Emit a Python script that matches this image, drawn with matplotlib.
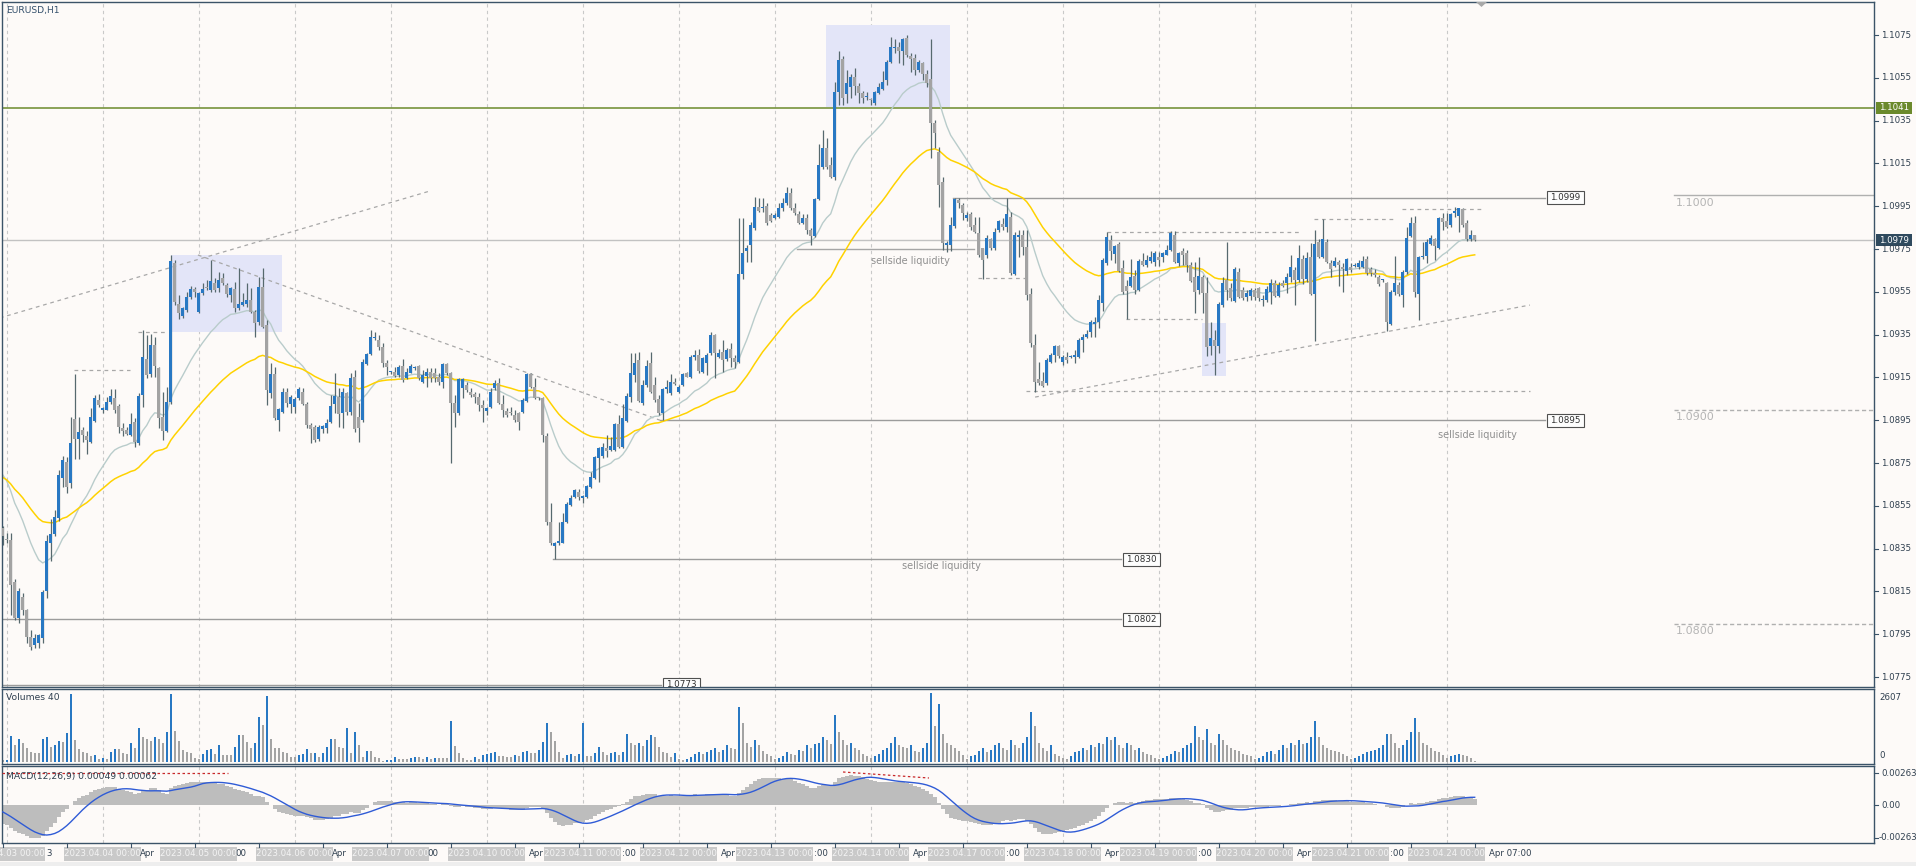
import matplotlib
matplotlib.use("Agg")
import matplotlib.pyplot as plt
from matplotlib.patches import Rectangle, Polygon
from matplotlib.textpath import TextToPath
from matplotlib.font_manager import FontProperties
import numpy as np

plt.rcParams['font.family'] = ['DejaVu Sans']

# ---------------- data ----------------
SYMBOL = "EURUSD,H1"
FIRST_BAR = -1                      # bar index of 2023.04.02 23:00 (index 0 = 2023.04.03 00:00)
TRADING_DAYS = ["2023.04.03", "2023.04.04", "2023.04.05", "2023.04.06", "2023.04.07",
                "2023.04.10", "2023.04.11", "2023.04.12", "2023.04.13", "2023.04.14",
                "2023.04.17", "2023.04.18", "2023.04.19", "2023.04.20", "2023.04.21",
                "2023.04.24"]
DAY_NUM = [3, 4, 5, 6, 7, 10, 11, 12, 13, 14, 17, 18, 19, 20, 21, 24]

# prices in pips above 1.0000 (e.g. 979.0 -> 1.09790)
open_pips = [
    844.4, 839.3, 839.0, 819.5, 802.4, 812.5, 806.3, 793.5, 789.9, 790.7, 793.4,
    815.3, 837.4, 841.8, 849.1, 868.1, 875.3, 865.5, 895.5, 886.0, 890.4,
    887.6, 885.0, 894.7, 904.4, 900.0, 900.0, 903.3, 905.2, 901.6, 891.5,
    890.4, 888.0, 894.3, 884.2, 906.7, 923.6, 916.6, 930.1, 919.2, 896.6,
    890.1, 903.6, 968.6, 949.3, 943.7, 946.5, 952.4, 956.1, 945.7, 954.3,
    957.4, 955.8, 958.9, 957.0, 961.3, 958.1, 953.5, 956.1, 947.2, 949.0,
    949.3, 951.2, 945.7, 941.0, 957.1, 939.5, 907.9, 916.6, 895.1, 899.0,
    908.3, 902.6, 901.0, 905.2, 908.3, 902.6, 892.8, 892.0, 886.1, 890.7,
    891.2, 894.3, 902.6, 905.7, 898.2, 907.6, 899.0, 915.3, 896.3, 895.1,
    921.3, 925.9, 933.2, 932.5, 929.4, 921.6, 917.4, 917.7, 916.1, 920.3,
    914.6, 917.2, 919.3, 920.3, 913.0, 915.7, 917.7, 916.9, 915.3, 913.0,
    921.3, 916.9, 903.2, 898.2, 909.9, 911.4, 908.3, 907.3, 905.7, 902.1,
    899.5, 901.3, 909.9, 912.2, 902.6, 899.5, 898.5, 897.4, 898.2, 899.0,
    904.1, 916.6, 910.7, 905.5, 905.2, 887.6, 847.6, 836.2, 837.5, 837.8,
    847.6, 855.4, 859.0, 861.6, 858.8, 859.3, 863.9, 867.8, 877.2, 878.3,
    881.8, 881.1, 881.1, 893.2, 882.3, 894.8, 906.0, 916.1, 923.1, 903.2,
    911.4, 921.6, 911.4, 904.7, 898.2, 909.4, 907.6, 913.0, 908.3, 911.4,
    916.9, 915.3, 924.7, 925.5, 917.3, 921.5, 926.2, 934.8, 924.6, 927.0,
    923.5, 928.5, 924.2, 922.3, 963.1, 974.0, 977.1, 984.6, 994.7, 994.0,
    995.2, 990.8, 989.6, 990.0, 994.0, 996.3, 1001.0, 994.3, 991.2, 987.0,
    989.3, 983.8, 981.2, 998.3, 1013.4, 1022.0, 1014.2, 1008.8, 1048.5, 1064.0,
    1047.2, 1050.8, 1055.5, 1051.3, 1047.7, 1046.0, 1045.1, 1043.0, 1047.7, 1049.7,
    1053.9, 1062.5, 1069.0, 1069.5, 1067.5, 1073.7, 1065.3, 1064.4, 1058.6, 1061.7,
    1057.0, 1054.4, 1033.7, 1020.4, 1006.4, 977.1, 976.8, 985.9, 997.9, 995.5,
    989.6, 991.2, 986.2, 982.3, 975.3, 972.2, 979.6, 975.3, 983.8, 986.9,
    985.4, 990.0, 963.1, 980.7, 981.5, 976.1, 954.2, 930.1, 914.2, 913.3,
    912.2, 922.3, 925.4, 929.8, 922.3, 924.6, 924.4, 924.6, 924.6, 932.4,
    934.0, 936.3, 939.9, 941.0, 950.0, 968.3, 979.2, 972.6, 977.3, 965.9,
    957.7, 957.7, 962.3, 955.8, 969.5, 967.5, 969.5, 969.0, 971.4, 971.1,
    972.2, 974.5, 981.5, 968.6, 974.2, 972.9, 967.5, 961.7, 955.8, 961.7,
    954.6, 929.6, 932.4, 929.6, 948.8, 960.5, 957.0, 950.8, 964.4, 955.8,
    952.4, 953.0, 955.8, 956.6, 951.0, 951.1, 955.0, 959.2, 953.0, 958.9,
    958.9, 961.7, 965.1, 960.5, 970.1, 960.8, 971.4, 953.9, 978.4, 971.1,
    978.4, 968.6, 967.0, 969.0, 966.4, 964.8, 966.4, 967.0, 966.4, 966.4,
    970.1, 965.5, 963.9, 962.0, 960.3, 958.9, 939.9, 955.0, 958.1, 953.5,
    964.4, 981.0, 987.0, 953.9, 971.1, 971.7, 977.3, 979.5, 975.3, 989.3,
    988.2, 986.2, 991.6, 990.4, 993.5, 987.3, 979.5, 981.5]
high_pips = [
    845.5, 842.1, 842.1, 821.0, 816.7, 814.1, 807.0, 797.0, 795.3, 795.3, 815.5,
    841.3, 848.6, 853.0, 871.7, 878.4, 878.0, 896.6, 916.4, 896.6, 892.0,
    890.0, 900.5, 906.7, 907.2, 901.3, 906.0, 909.4, 909.4, 902.8, 893.5,
    892.0, 898.2, 895.8, 907.5, 937.1, 934.8, 935.2, 933.7, 919.8, 908.3,
    910.6, 972.2, 969.8, 953.5, 948.0, 955.0, 957.7, 957.4, 955.0, 958.9,
    960.5, 969.8, 961.3, 964.4, 963.6, 958.9, 957.4, 959.7, 966.0, 954.3,
    959.0, 956.6, 946.5, 962.1, 966.0, 941.8, 921.6, 920.0, 900.5, 909.9,
    909.9, 906.8, 906.0, 910.4, 909.9, 903.7, 893.5, 892.8, 892.8, 892.8,
    895.4, 906.8, 916.9, 909.9, 909.9, 908.3, 916.9, 918.5, 902.9, 923.4,
    926.5, 937.2, 936.4, 934.8, 930.9, 923.1, 918.1, 920.0, 920.8, 923.4,
    919.2, 921.3, 920.3, 920.8, 918.5, 919.2, 919.2, 919.2, 916.9, 921.5,
    921.6, 917.7, 906.8, 914.6, 914.6, 913.0, 909.9, 908.3, 907.6, 904.4,
    901.0, 909.9, 913.8, 914.6, 906.8, 900.5, 901.3, 899.8, 899.0, 905.2,
    916.9, 916.9, 914.6, 906.0, 906.0, 888.9, 856.2, 838.2, 847.6, 851.5,
    856.9, 860.0, 862.7, 862.7, 860.0, 864.7, 870.9, 878.3, 882.6, 884.2,
    888.1, 887.3, 893.9, 897.4, 902.6, 907.6, 926.6, 926.3, 927.0, 913.8,
    923.1, 927.0, 915.3, 906.8, 909.9, 913.8, 916.6, 914.6, 911.4, 917.2,
    917.7, 925.5, 927.8, 928.1, 924.6, 926.2, 936.3, 935.5, 928.5, 932.4,
    928.8, 930.9, 925.4, 989.6, 989.6, 976.8, 987.7, 999.4, 998.9, 998.6,
    996.3, 991.6, 991.6, 996.3, 998.9, 1004.1, 1003.3, 996.3, 992.7, 991.2,
    991.2, 984.6, 998.9, 1023.9, 1030.6, 1026.7, 1018.1, 1053.1, 1067.5, 1065.3,
    1058.6, 1056.6, 1059.4, 1052.4, 1048.8, 1048.2, 1045.7, 1048.8, 1052.4, 1058.1,
    1063.3, 1074.2, 1073.1, 1071.8, 1073.7, 1075.0, 1066.4, 1065.9, 1063.3, 1062.5,
    1058.6, 1073.1, 1035.2, 1022.8, 1008.8, 978.7, 990.0, 998.9, 998.9, 996.3,
    992.4, 992.4, 990.0, 990.0, 975.6, 981.5, 980.3, 984.6, 988.5, 989.3,
    998.9, 992.4, 983.1, 983.8, 983.8, 983.8, 956.6, 935.5, 922.3, 917.6,
    923.9, 926.2, 930.1, 930.1, 925.4, 927.0, 925.4, 927.8, 933.2, 935.5,
    937.1, 941.8, 943.3, 953.5, 970.6, 983.1, 981.5, 976.8, 978.4, 969.8,
    960.5, 970.1, 965.1, 970.1, 973.2, 972.2, 974.2, 974.2, 973.7, 973.7,
    976.8, 983.5, 983.5, 973.7, 975.3, 974.5, 969.0, 969.0, 971.4, 962.8,
    962.0, 941.0, 937.1, 950.3, 962.0, 978.4, 958.9, 966.4, 965.9, 957.4,
    955.8, 956.6, 956.6, 957.4, 953.5, 957.7, 961.2, 960.5, 959.7, 960.5,
    963.6, 972.2, 966.4, 976.8, 972.2, 973.7, 977.6, 984.1, 979.9, 988.8,
    979.9, 969.8, 971.4, 969.8, 968.3, 970.6, 968.3, 968.6, 969.8, 971.7,
    971.7, 966.4, 965.5, 962.8, 961.2, 959.7, 955.8, 971.7, 959.7, 965.1,
    985.4, 989.8, 990.4, 971.7, 978.4, 979.5, 981.5, 980.0, 990.1, 991.6,
    991.6, 992.0, 994.7, 994.3, 994.3, 988.5, 984.1, 981.6]
low_pips = [
    836.6, 837.4, 804.0, 801.6, 800.1, 804.0, 790.7, 787.6, 788.4, 788.4, 790.7,
    811.7, 829.3, 841.0, 848.0, 863.6, 860.8, 863.5, 877.0, 877.0, 885.0,
    879.0, 884.5, 894.3, 901.3, 898.5, 899.7, 902.8, 898.2, 889.1, 887.6,
    887.9, 887.6, 882.3, 883.4, 901.3, 914.5, 915.0, 915.0, 891.2, 885.7,
    889.6, 902.8, 948.8, 942.1, 942.6, 945.7, 951.8, 952.7, 944.9, 953.5,
    955.8, 955.0, 955.0, 955.0, 958.1, 952.7, 950.4, 945.7, 946.5, 948.4,
    948.1, 945.0, 934.0, 939.5, 937.9, 902.1, 905.2, 895.1, 890.1, 898.2,
    901.0, 898.2, 898.2, 904.4, 902.1, 891.2, 884.2, 885.0, 885.4, 888.9,
    888.9, 893.9, 898.2, 892.0, 891.2, 897.4, 897.4, 889.6, 885.0, 894.3,
    920.8, 925.5, 932.5, 927.8, 920.0, 916.1, 916.6, 915.3, 915.3, 913.0,
    914.1, 916.9, 918.5, 913.8, 912.5, 910.7, 913.0, 913.0, 911.4, 909.9,
    916.1, 874.8, 892.0, 897.4, 905.2, 908.3, 906.0, 902.9, 899.5, 894.3,
    897.4, 900.5, 909.1, 902.6, 896.6, 896.6, 897.4, 894.3, 890.4, 898.2,
    903.6, 909.9, 904.7, 904.4, 885.0, 846.0, 836.7, 830.0, 836.7, 837.5,
    846.8, 854.9, 858.5, 857.7, 856.2, 858.5, 863.1, 867.4, 866.3, 877.2,
    878.0, 880.8, 880.8, 881.8, 881.8, 894.3, 903.7, 913.0, 903.7, 902.1,
    910.7, 907.6, 903.7, 897.4, 895.1, 907.6, 906.8, 911.4, 907.6, 911.0,
    915.3, 914.6, 923.1, 916.9, 916.9, 916.0, 925.4, 914.5, 923.9, 917.6,
    922.6, 920.0, 919.2, 921.5, 961.2, 969.0, 969.0, 983.8, 992.1, 992.4,
    986.2, 987.7, 989.0, 989.3, 992.7, 995.5, 993.2, 990.8, 986.5, 986.5,
    981.8, 976.8, 980.7, 997.9, 1012.6, 1012.3, 1008.0, 1007.2, 1042.2, 1042.2,
    1043.0, 1045.4, 1046.9, 1043.0, 1043.0, 1044.6, 1042.2, 1042.5, 1047.2, 1049.3,
    1051.6, 1061.7, 1066.4, 1061.7, 1060.9, 1064.8, 1057.8, 1056.3, 1057.8, 1053.9,
    1050.8, 1017.3, 1022.0, 994.7, 974.5, 973.7, 974.0, 984.6, 994.3, 988.5,
    988.0, 983.8, 982.3, 971.4, 961.2, 970.9, 974.5, 974.5, 983.1, 983.8,
    983.1, 962.8, 962.8, 971.4, 972.2, 951.1, 929.3, 908.3, 911.3, 910.6,
    911.4, 921.5, 922.3, 924.2, 920.8, 921.5, 923.9, 921.5, 923.9, 927.0,
    933.2, 934.0, 934.0, 938.0, 946.1, 967.5, 969.8, 968.3, 964.4, 954.2,
    942.1, 957.1, 954.2, 955.5, 967.0, 966.4, 968.3, 967.0, 967.0, 969.0,
    972.0, 974.2, 968.6, 967.0, 967.5, 964.4, 959.7, 945.2, 954.2, 945.2,
    925.0, 925.4, 916.1, 926.2, 948.0, 951.1, 950.8, 950.3, 951.9, 951.1,
    950.8, 951.1, 951.1, 950.8, 948.3, 950.3, 949.3, 952.4, 952.4, 957.4,
    954.6, 959.7, 948.8, 959.7, 958.6, 959.7, 953.5, 932.1, 970.6, 970.6,
    968.3, 962.0, 966.4, 957.7, 955.0, 962.8, 964.4, 966.4, 965.5, 965.9,
    962.8, 962.3, 961.7, 957.7, 959.7, 936.8, 939.4, 953.5, 953.0, 948.0,
    963.3, 980.4, 952.4, 941.8, 970.1, 968.3, 976.8, 970.0, 975.0, 983.8,
    984.6, 985.4, 990.1, 983.1, 985.4, 978.9, 978.9, 978.6]
close_pips = [
    840.9, 839.0, 818.0, 802.4, 815.3, 806.3, 793.5, 789.1, 793.0, 794.6, 814.8,
    838.5, 842.0, 849.9, 869.4, 876.4, 863.9, 884.5, 886.0, 889.6, 888.0,
    885.7, 896.6, 905.2, 902.0, 900.5, 903.6, 906.3, 900.0, 892.0, 890.0,
    888.4, 893.2, 884.9, 906.3, 924.3, 916.1, 930.1, 920.3, 895.8, 890.1,
    903.6, 969.4, 950.4, 945.2, 947.2, 952.4, 956.1, 955.0, 954.3, 956.1,
    956.9, 960.2, 955.8, 960.5, 958.9, 954.0, 957.0, 947.2, 949.3, 950.4,
    951.2, 945.7, 940.3, 957.1, 938.7, 909.1, 916.6, 895.9, 900.1, 908.3,
    902.9, 906.0, 905.0, 909.4, 902.6, 892.8, 890.7, 885.8, 892.0, 892.3,
    893.5, 901.6, 906.3, 897.9, 908.3, 899.0, 914.6, 890.7, 891.2, 922.4,
    925.8, 933.7, 933.7, 929.4, 921.6, 920.0, 917.7, 915.6, 919.7, 913.8,
    917.7, 920.5, 919.5, 914.6, 916.1, 917.7, 914.6, 914.6, 913.0, 921.3,
    916.9, 903.2, 898.2, 914.1, 914.1, 909.1, 906.8, 905.7, 902.1, 900.6,
    900.5, 908.3, 912.2, 903.2, 899.8, 897.4, 898.4, 895.1, 894.3, 904.4,
    916.6, 910.7, 905.2, 905.3, 888.1, 847.6, 837.5, 837.8, 838.7, 847.6,
    855.8, 858.8, 862.4, 859.3, 859.1, 864.3, 868.6, 877.6, 881.8, 882.6,
    880.8, 883.0, 893.2, 882.6, 895.9, 906.3, 916.9, 921.9, 904.1, 911.4,
    920.3, 908.3, 904.4, 898.2, 909.4, 910.7, 913.0, 911.9, 910.7, 916.6,
    915.3, 924.7, 925.5, 918.2, 923.9, 925.4, 934.8, 926.2, 926.2, 923.1,
    927.8, 924.2, 922.0, 963.1, 972.9, 975.3, 986.2, 994.7, 992.7, 994.7,
    987.0, 988.1, 990.8, 994.0, 996.3, 1001.0, 994.3, 991.6, 987.0, 989.6,
    983.8, 981.2, 998.3, 1014.2, 1022.0, 1013.4, 1008.8, 1048.5, 1063.3, 1045.7,
    1052.4, 1055.5, 1051.3, 1047.7, 1045.7, 1046.2, 1044.6, 1048.2, 1050.8, 1053.1,
    1062.5, 1069.2, 1069.2, 1067.5, 1073.1, 1065.6, 1063.6, 1058.6, 1062.2, 1057.0,
    1052.4, 1033.7, 1029.0, 1004.9, 977.6, 977.5, 986.2, 998.3, 996.3, 991.6,
    990.8, 985.4, 983.0, 972.2, 969.8, 980.0, 975.3, 983.1, 988.1, 985.4,
    991.2, 963.6, 981.5, 981.5, 976.1, 953.5, 930.9, 913.0, 912.2, 911.1,
    923.1, 925.4, 929.8, 925.1, 924.6, 923.1, 924.6, 925.4, 932.4, 934.0,
    935.5, 941.0, 941.0, 951.0, 969.8, 980.4, 974.2, 976.4, 964.8, 955.0,
    955.5, 961.7, 955.8, 969.5, 967.5, 969.8, 971.1, 973.2, 969.8, 973.2,
    974.5, 982.6, 969.0, 973.2, 972.2, 967.5, 960.2, 955.0, 962.3, 954.6,
    929.0, 933.2, 929.6, 949.3, 958.9, 955.8, 951.9, 965.5, 952.7, 951.9,
    954.6, 955.8, 952.4, 951.9, 951.2, 956.1, 959.2, 953.0, 958.1, 957.7,
    961.7, 966.4, 960.5, 970.6, 960.8, 970.6, 954.2, 977.3, 971.4, 979.5,
    969.0, 965.5, 969.5, 967.5, 965.5, 970.1, 965.1, 967.2, 968.6, 969.5,
    963.9, 963.6, 962.8, 958.6, 960.5, 941.0, 955.0, 958.9, 953.9, 964.4,
    980.0, 987.0, 955.0, 971.1, 971.7, 978.4, 980.0, 976.4, 989.3, 987.7,
    985.1, 991.3, 992.9, 994.0, 986.2, 979.5, 981.5, 979.0]
tick_volumes = [
    72, 90, 941, 615, 832, 676, 519, 350, 338, 338, 832, 917, 555, 615, 760, 736,
    1038, 2461, 796, 471, 374, 338, 217, 253, 120,
    150, 120, 380, 470, 470, 340, 280, 680, 500, 1220, 900, 830, 760, 900, 830, 700,
    1100, 2460, 1130, 760, 450, 350, 340, 150,
    108, 290, 434, 470, 300, 615, 260, 260, 260, 555, 978, 978, 736, 495, 676, 1640,
    1340, 2390, 820, 495, 495, 374, 320, 170,
    170, 250, 290, 470, 313, 338, 170, 338, 555, 832, 820, 555, 495, 1219, 313, 1074,
    615, 170, 410, 410, 170, 130, 40, 60,
    72, 170, 108, 100, 100, 130, 190, 190, 100, 170, 100, 130, 130, 130, 130, 1497,
    580, 313, 130, 72, 72, 170, 100, 250,
    300, 338, 374, 217, 217, 190, 170, 253, 217, 374, 410, 338, 338, 434, 736, 1424,
    1098, 772, 374, 130, 253, 290, 217, 300,
    1424, 217, 200, 338, 555, 374, 253, 338, 374, 253, 374, 1014, 700, 615, 676, 580,
    796, 978, 918, 555, 374, 338, 190, 338,
    100, 60, 100, 190, 290, 374, 300, 350, 420, 500, 380, 450, 600, 520, 480, 2000,
    1400, 700, 550, 800, 600, 400, 300, 200,
    120, 150, 200, 350, 300, 250, 450, 400, 600, 500, 650, 700, 900, 800, 650, 1700,
    1100, 800, 600, 700, 500, 450, 300, 200,
    150, 200, 300, 450, 500, 700, 900, 600, 550, 500, 600, 400, 350, 500, 700, 2500,
    1300, 2100, 1000, 700, 600, 500, 400, 250,
    100, 200, 250, 400, 500, 350, 450, 600, 700, 500, 450, 800, 600, 500, 700, 900,
    1800, 1300, 700, 500, 400, 600, 300, 200,
    150, 120, 200, 350, 400, 500, 450, 600, 550, 700, 650, 900, 800, 900, 600, 500,
    700, 600, 450, 500, 350, 300, 250, 150,
    100, 150, 200, 300, 400, 350, 500, 600, 700, 1300, 900, 800, 1200, 700, 600, 1000,
    800, 600, 500, 450, 400, 300, 250, 200,
    100, 150, 200, 350, 400, 300, 450, 600, 500, 700, 600, 800, 650, 700, 900, 1500,
    900, 600, 500, 450, 400, 350, 300, 200,
    120, 150, 200, 300, 350, 400, 450, 500, 600, 1000, 1000, 700, 500, 600, 800, 1100,
    1600, 1100, 700, 600, 500, 400, 350, 250,
    150, 200, 250, 300, 250, 200, 150, 40]

# indicator settings / state before the first visible bar
FAST_MA_PERIOD, FAST_MA_SEED = 20, 1.08725
SLOW_MA_PERIOD, SLOW_MA_SEED = 50, 1.08694
MACD_FAST, MACD_SLOW, MACD_SIGNAL = 12, 26, 9
EMA12_SEED, EMA26_SEED = 1.08700, 1.08840
MACD_PRIOR = [0.0000, -0.0001, -0.0002, -0.0003, -0.0004, -0.0006, -0.0008, -0.0011]

# drawn objects
AXIS_PRICES = [1.1075, 1.1055, 1.1035, 1.1015, 1.0995, 1.0975, 1.0955, 1.0935,
               1.0915, 1.0895, 1.0875, 1.0855, 1.0835, 1.0815, 1.0795, 1.0775]
GREEN_LEVEL = 1.1041
BID = 1.0979
# (price, start bar, end bar, label)
LEVELS = [(1.0999, 236.6, 384.6, "1.0999"), (1.0895, 163.3, 384.6, "1.0895"),
          (1.0830, 136.6, 278.6, "1.0830"), (1.0802, -1.2, 278.6, "1.0802"),
          (1.07713, -1.2, 163.6, "1.0773")]
SELLSIDE_LINE = (1.09748, 197.6, 241.8)
ROUND_LEVELS = [(1.1000, "1.1000", '-'), (1.0900, "1.0900", '--'), (1.0800, "1.0800", '--')]
ROUND_START = 416.8
# dashed trend lines: (bar0, price0, bar1, price1)
DASHED = [(-1.7, 1.09428, 105.8, 1.10021), (47.8, 1.09722, 163.3, 1.0895),
          (257.1, 1.09058, 380.8, 1.09488), (254.8, 1.09085, 380.8, 1.09085),
          (16.8, 1.09185, 30.8, 1.09185), (32.8, 1.09362, 39.6, 1.09362),
          (242.8, 1.09613, 255.3, 1.09613), (275.0, 1.09828, 323.8, 1.09828),
          (279.8, 1.09422, 298.8, 1.09422), (326.8, 1.09889, 347.1, 1.09889),
          (348.8, 1.09935, 369.1, 1.09935)]
# shaded zones: (bar0, bar1, price_low, price_high)
ZONES = [(41.0, 68.8, 1.09362, 1.09722), (204.8, 235.8, 1.10412, 1.10797),
         (298.8, 304.8, 1.09157, 1.09406)]
TEXTS = [("sellside liquidity", 225.9, 1.09694), ("sellside liquidity", 233.6, 1.08271),
         ("sellside liquidity", 367.8, 1.08882)]

# ---------------- layout helpers ----------------
W, H, DPI = 1916, 866, 100
X0, BW = 6.7, 4.0
PY0, PP0, PXPU = 35.0, 1.1075, 21400.0
BG = '#fdfaf8'
BORDER = '#3b5368'
TXT = '#2f3f4f'
BLUE = '#2878c3'
GREYB = '#a3a3a3'
WICK = '#56696e'
AXFS = 6.2


def xi(px):
    return (px - X0) / BW


def xp(i):
    return X0 + BW * i


def pp(py):
    return PP0 - (py - PY0) / PXPU


def py_of(p):
    return PY0 + (PP0 - p) * PXPU


fig = plt.figure(figsize=(W / DPI, H / DPI), dpi=DPI)
fig.patch.set_facecolor(BG)

LEFT, RIGHT = 2, 1874


def add_ax(top, bottom):
    ax = fig.add_axes([LEFT / W, 1 - bottom / H, (RIGHT - LEFT) / W, (bottom - top) / H])
    ax.set_facecolor(BG)
    ax.set_xticks([])
    ax.set_yticks([])
    for s in ax.spines.values():
        s.set_color(BORDER)
        s.set_linewidth(1.0)
    ax.set_xlim(xi(LEFT), xi(RIGHT))
    return ax


ax = add_ax(2, 687)
ax.set_ylim(pp(687), pp(2))
axv = add_ax(689, 764)
VOL_PER_PX, VOL_BASE = 36.2, 762
axv.set_ylim(-(764 - VOL_BASE) * VOL_PER_PX, (VOL_BASE - 689) * VOL_PER_PX)
axm = add_ax(766, 843)
MACD_PER_PX, MACD_ZERO = 0.00263 / 32.5, 805
axm.set_ylim(-(843 - MACD_ZERO) * MACD_PER_PX, (MACD_ZERO - 766) * MACD_PER_PX)

o = 1 + np.array(open_pips) / 1e4
h = 1 + np.array(high_pips) / 1e4
l = 1 + np.array(low_pips) / 1e4
c = 1 + np.array(close_pips) / 1e4
h = np.maximum(h, np.maximum(o, c))
l = np.minimum(l, np.minimum(o, c))
n = len(c)
idx = np.arange(FIRST_BAR, FIRST_BAR + n)

# day separators
for d in range(len(TRADING_DAYS)):
    for a in (ax, axv, axm):
        a.axvline(24 * d, color='#c9c9c9', lw=0.8, ls=(0, (3, 3)), zorder=0.5)

# zones
for b0, b1, p0, p1 in ZONES:
    ax.add_patch(Rectangle((b0, p0), b1 - b0, p1 - p0, facecolor='#e3e5f8', edgecolor='none', zorder=0.6))

# horizontal lines
ax.axhline(GREEN_LEVEL, color='#6b8a2c', lw=1.1, zorder=1)
ax.axhline(BID, color='#c2c2c2', lw=1.0, zorder=1)
for p, b0, b1, lab in LEVELS:
    ax.plot([b0, b1], [p, p], color='#9c9c9c', lw=1.0, zorder=1)
    bx = b1 + 0.5
    ax.add_patch(Rectangle((bx, p - 6.5 / PXPU), 9.2, 13 / PXPU, facecolor='#fdfdfd',
                           edgecolor='#505050', lw=0.8, zorder=5))
    ax.text(bx + 4.6, p, lab, ha='center', va='center', fontsize=6.3, color='#303030', zorder=6)
ax.plot([SELLSIDE_LINE[1], SELLSIDE_LINE[2]], [SELLSIDE_LINE[0]] * 2, color='#a6a6a6', lw=1.0, zorder=1)
for p, lab, ls in ROUND_LEVELS:
    ax.plot([ROUND_START, xi(RIGHT)], [p, p], color='#b0b0b0', lw=1.0, ls=ls if ls == '-' else (0, (3, 2)), zorder=1)
    ax.text(ROUND_START + 0.5, p - 3 / PXPU, lab, ha='left', va='top', fontsize=8, color='#b5b5b5', zorder=1)
for b0, p0, b1, p1 in DASHED:
    ax.plot([b0, b1], [p0, p1], color='#a8a8a8', lw=0.9, ls=(0, (3, 3)), zorder=1)
for t, b, p in TEXTS:
    ax.text(b, p, t, ha='center', va='center', fontsize=7, color='#8f8f8f', zorder=1)

# moving averages (computed from closes)


def ema(vals, period, seed):
    k = 2.0 / (period + 1)
    out = np.empty(len(vals))
    e = seed
    for j, v in enumerate(vals):
        e += k * (v - e)
        out[j] = e
    return out


ax.plot(idx, ema(c, FAST_MA_PERIOD, FAST_MA_SEED), color='#b9cccb', lw=1.0, zorder=2)
ax.plot(idx, ema(c, SLOW_MA_PERIOD, SLOW_MA_SEED), color='#ffd200', lw=1.1, zorder=2)

# candles
ax.vlines(idx, l, h, color=WICK, lw=0.9, zorder=3)
up = c > o
body_lo = np.minimum(o, c)
body_h = np.maximum(np.abs(c - o), 1.2 / PXPU)
ax.bar(idx, body_h, bottom=body_lo, width=0.8, color=np.where(up, BLUE, GREYB), linewidth=0, zorder=4)

# volumes
vol = np.array(tick_volumes, dtype=float)
vcol = [GREYB] + [BLUE if vol[j] > vol[j - 1] else GREYB for j in range(1, n)]
axv.bar(idx, vol, width=0.6, color=vcol, linewidth=0, zorder=2)

# MACD
macd = ema(c, MACD_FAST, EMA12_SEED) - ema(c, MACD_SLOW, EMA26_SEED)
hist = np.concatenate([np.array(MACD_PRIOR), macd])
signal = np.array([hist[j:j + MACD_SIGNAL].mean() for j in range(n)])
axm.bar(idx, macd, width=1.0, color='#bdbdbd', linewidth=0, zorder=2)
axm.plot(idx, signal, color='#2f5bd6', lw=1.0, zorder=3)
axm.plot([xi(2), xi(228)], [(MACD_ZERO - 773) * MACD_PER_PX] * 2, color='#c8282a', lw=0.9, ls=(0, (2, 2)), zorder=4)
axm.plot([xi(843), xi(929)], [(MACD_ZERO - 772) * MACD_PER_PX, (MACD_ZERO - 778) * MACD_PER_PX],
         color='#c8282a', lw=0.9, ls=(0, (2, 2)), zorder=4)

# ---------------- overlay in pixel space ----------------
ov = fig.add_axes([0, 0, 1, 1])
ov.set_xlim(0, W)
ov.set_ylim(H, 0)
ov.axis('off')
ov.patch.set_alpha(0)
ov.set_zorder(10)

ov.text(6, 10, SYMBOL, ha='left', va='center', fontsize=6.6, color='#34506c')
ov.text(6, 698, "Volumes 40", ha='left', va='center', fontsize=6.6, color=TXT)
ov.text(6, 776, "MACD(12,26,9) 0.00049 0.00062", ha='left', va='center', fontsize=6.6, color=TXT)

# chart-shift marker
ov.add_patch(Polygon([[1476, 2], [1487, 2], [1481.5, 7]], closed=True, facecolor='#a8a8a8', edgecolor='none'))

# price axis
for p in AXIS_PRICES:
    y = py_of(p)
    ov.plot([RIGHT, RIGHT + 4], [y, y], color=BORDER, lw=0.8)
    ov.text(1881, y, f"{p:.4f}", ha='left', va='center', fontsize=AXFS, color=TXT)
for p, fc in ((GREEN_LEVEL, '#6b8a2c'), (BID, '#2f4a5e')):
    y = py_of(p)
    ov.add_patch(Rectangle((1876, y - 6), 36, 12, facecolor=fc, edgecolor='none'))
    ov.text(1894, y, f"{p:.4f}", ha='center', va='center', fontsize=AXFS, color='white')

# volume / macd axis labels
ov.text(1879, 697, "2607", ha='left', va='center', fontsize=AXFS, color=TXT)
ov.text(1879, 756, "0", ha='left', va='center', fontsize=AXFS, color=TXT)
for yy, lab in ((773, "0.00263"), (805, "0.00"), (838, "-0.00263")):
    ov.plot([RIGHT, RIGHT + 4], [yy, yy], color=BORDER, lw=0.8)
    ov.text(1879 if lab.startswith('-') else 1881, yy, lab, ha='left', va='center', fontsize=AXFS, color=TXT)

# ---- time axis: tick labels partly covered by the day-separator boxes ----
_ttp = TextToPath()
_tprop = FontProperties(family='DejaVu Sans', size=AXFS)
_bar_w = _ttp.get_text_width_height_descent("|", _tprop, ismath=False)[0]


def adv(s):
    """horizontal advance (pixels) of string s"""
    if s == "":
        return 0.0
    w = _ttp.get_text_width_height_descent(s + "|", _tprop, ismath=False)[0]
    return (w - _bar_w) * DPI / 72.0


def draw_visible(s, x0, y, visible, **kw):
    edges = [adv(s[:j]) for j in range(len(s) + 1)]
    j = 0
    while j < len(s):
        if s[j] != ' ' and visible(x0 + 0.5 * (edges[j] + edges[j + 1])):
            k = j
            while k < len(s) and visible(x0 + 0.5 * (edges[k] + edges[k + 1])):
                k += 1
            frag = s[j:k].rstrip()
            if frag:
                ov.text(x0 + edges[j], y, frag, ha='left', va='center', **kw)
            j = k
        else:
            j += 1


BOX_HALF = 38.5
box_centers = [xp(24 * d) for d in range(len(TRADING_DAYS))]


def outside_boxes(x):
    return 0 <= x <= RIGHT and all(abs(x - bc) > BOX_HALF for bc in box_centers)


for k in range(40):
    i = FIRST_BAR + 16 * k
    if i > FIRST_BAR + n - 1:
        break
    x = xp(i)
    ov.plot([x, x], [843, 847], color=BORDER, lw=0.8)
    if i < 0:
        lab = "2 Apr 2023"
    else:
        lab = f"{DAY_NUM[i // 24]} Apr {i % 24:02d}:00"
    draw_visible(lab, x + 1, 854, outside_boxes, fontsize=AXFS, color=TXT)

for d, ds in enumerate(TRADING_DAYS):
    cx = box_centers[d]
    ov.add_patch(Rectangle((cx - BOX_HALF, 847), 2 * BOX_HALF, 14, facecolor='#c9c9c9', edgecolor='none'))
    s = f"{ds} 00:00"
    draw_visible(s, cx - adv(s) / 2.0, 854, lambda x: x >= 1.0, fontsize=AXFS, color='#f4f4f4')
ov.add_patch(Rectangle((0, 862), W, 4, facecolor='#eeeeee', edgecolor='none'))

fig.savefig("out.png", dpi=DPI, facecolor=fig.get_facecolor())
